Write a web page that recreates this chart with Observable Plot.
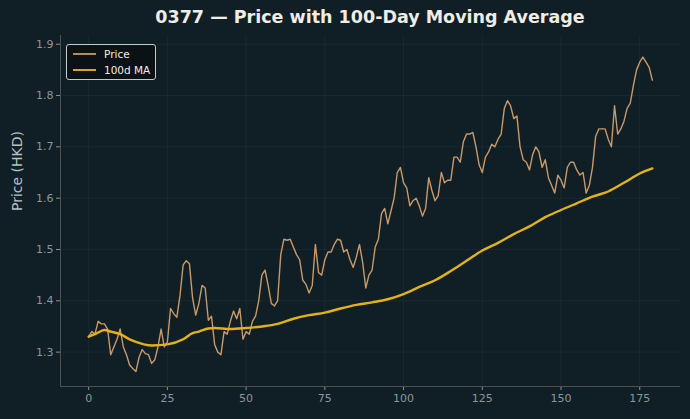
<!DOCTYPE html>
<html>
<head>
<meta charset="utf-8">
<script src="https://cdn.jsdelivr.net/npm/d3@7"></script>
<script src="https://cdn.jsdelivr.net/npm/@observablehq/plot@0.6"></script>
<style>
  html, body { margin: 0; padding: 0; background: #0f1f25; }
  #wrap { position: relative; width: 690px; height: 419px; background: #0f1f25; font-family: "DejaVu Sans", sans-serif; }
  #title { position: absolute; left: 60px; width: 620px; top: 7px; text-align: center; color: #f0ece6; font-weight: bold; font-size: 17.5px; }
  #chart { position: absolute; left: 0; top: 35px; }
  #legend { position: absolute; left: 66px; top: 44px; width: 90px; height: 36px; background: #0a1216; border: 1px solid #c8c8c8; border-radius: 3px; box-sizing: border-box; color: #f0ece6; font-size: 10.5px; }
  .row { position: absolute; left: 6px; display: flex; align-items: center; }
  .sw { width: 23px; margin-right: 8px; }
</style>
</head>
<body>
<div id="wrap">
  <div id="title">0377 — Price with 100-Day Moving Average</div>
  <div id="chart"></div>
  <div id="legend">
    <div class="row" style="top:3px"><div class="sw" style="height:2px;background:#b38a62"></div>Price</div>
    <div class="row" style="top:19px"><div class="sw" style="height:2.5px;background:#d4a915"></div>100d MA</div>
  </div>
</div>
<script>
const price = [
  1.330, 1.340, 1.335, 1.360, 1.355, 1.355, 1.345, 1.295, 1.310, 1.325,
  1.345, 1.310, 1.295, 1.275, 1.268, 1.262, 1.290, 1.305, 1.297, 1.295,
  1.278, 1.285, 1.310, 1.345, 1.310, 1.320, 1.385, 1.375, 1.368, 1.410,
  1.470, 1.478, 1.472, 1.405, 1.372, 1.395, 1.430, 1.425, 1.362, 1.370,
  1.315, 1.300, 1.295, 1.340, 1.335, 1.360, 1.380, 1.365, 1.385, 1.325,
  1.340, 1.335, 1.360, 1.370, 1.400, 1.450, 1.460, 1.430, 1.395, 1.390,
  1.400, 1.490, 1.520, 1.518, 1.520, 1.505, 1.490, 1.480, 1.440, 1.432,
  1.415, 1.430, 1.510, 1.455, 1.450, 1.480, 1.495, 1.495, 1.510, 1.520,
  1.518, 1.495, 1.500, 1.480, 1.465, 1.485, 1.510, 1.475, 1.425, 1.450,
  1.460, 1.505, 1.520, 1.570, 1.580, 1.550, 1.575, 1.600, 1.650, 1.660,
  1.630, 1.620, 1.585, 1.595, 1.600, 1.585, 1.565, 1.580, 1.640, 1.615,
  1.595, 1.605, 1.650, 1.630, 1.635, 1.635, 1.680, 1.680, 1.670, 1.710,
  1.725, 1.725, 1.728, 1.700, 1.665, 1.650, 1.680, 1.690, 1.705, 1.700,
  1.715, 1.725, 1.775, 1.790, 1.780, 1.755, 1.760, 1.700, 1.675, 1.670,
  1.655, 1.685, 1.700, 1.690, 1.660, 1.675, 1.640, 1.625, 1.610, 1.645,
  1.635, 1.620, 1.660, 1.670, 1.670, 1.655, 1.645, 1.650, 1.610, 1.625,
  1.660, 1.720, 1.735, 1.735, 1.735, 1.715, 1.700, 1.780, 1.725, 1.735,
  1.750, 1.775, 1.785, 1.820, 1.850, 1.865, 1.875, 1.865, 1.855, 1.830
];
const maDays = [0, 2, 5, 7, 10, 13, 15, 20, 25, 30, 33, 35, 38, 40, 45, 50, 55, 60, 65, 70, 75, 80, 85, 90, 95, 100, 105, 110, 115, 120, 125, 130, 135, 140, 145, 150, 155, 160, 165, 170, 175, 179];
const maValues = [1.330, 1.335, 1.343, 1.340, 1.335, 1.325, 1.320, 1.313, 1.315, 1.325, 1.337, 1.340, 1.346, 1.347, 1.345, 1.347, 1.350, 1.355, 1.365, 1.372, 1.377, 1.385, 1.392, 1.397, 1.403, 1.413, 1.427, 1.440, 1.458, 1.478, 1.498, 1.513, 1.530, 1.545, 1.563, 1.577, 1.590, 1.603, 1.613, 1.630, 1.648, 1.658];
const xTicks = [0, 25, 50, 75, 100, 125, 150, 175];
const yTicks = [1.3, 1.4, 1.5, 1.6, 1.7, 1.8, 1.9];

const priceData = price.map((v, i) => ({day: i, value: v}));
const maData = maDays.map((d, i) => ({day: d, value: maValues[i]}));

const xDom = [-8.95, 187.95];
const yDom = [1.233, 1.917];

const chart = Plot.plot({
  width: 690,
  height: 384,
  marginTop: 0,
  marginLeft: 60,
  marginRight: 10,
  marginBottom: 33,
  style: {background: "transparent", color: "#8e969a", fontFamily: "DejaVu Sans, sans-serif", fontSize: "11px"},
  x: {domain: xDom},
  y: {domain: yDom},
  marks: [
    Plot.gridX(xTicks, {stroke: "#ffffff", strokeOpacity: 0.045}),
    Plot.gridY(yTicks, {stroke: "#ffffff", strokeOpacity: 0.045}),
    Plot.axisX(xTicks, {tickSize: 4, tickPadding: 4, stroke: "#8a9296", label: null, fill: "#8e969a"}),
    Plot.axisY(yTicks, {tickSize: 4, tickPadding: 3, stroke: "#8a9296", label: null, tickFormat: d3.format(".1f"), fill: "#8e969a"}),
    Plot.ruleX([xDom[0]], {stroke: "#4d504c", strokeWidth: 1}),
    Plot.ruleY([yDom[0]], {stroke: "#4d504c", strokeWidth: 1}),
    Plot.line(priceData, {x: "day", y: "value", stroke: "#c9996b", strokeWidth: 1.4}),
    Plot.line(maData, {x: "day", y: "value", stroke: "#e3b21a", strokeWidth: 2.4, curve: "monotone-x"}),
    Plot.text(["Price (HKD)"], {frameAnchor: "left", text: d => d, rotate: -90, dx: -43, fontSize: 14, fill: "#b8bfc2"})
  ]
});
document.getElementById("chart").appendChild(chart);
</script>
</body>
</html>
